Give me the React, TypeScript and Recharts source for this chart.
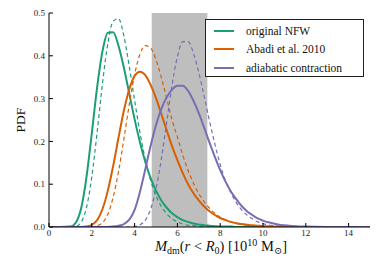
import React from "react";
import { LineChart, Line, XAxis, YAxis, ReferenceArea } from "recharts";

// M_dm(r < R0) grid, in 10^10 Msun
const mass = [
  0, 0.5, 1, 1.25, 1.5, 1.75, 2, 2.25, 2.5, 2.75, 3, 3.25, 3.5, 3.75, 4, 4.25, 4.5, 4.75, 5, 5.25, 5.5, 5.75,
  6, 6.25, 6.5, 6.75, 7, 7.25, 7.5, 7.75, 8, 8.25, 8.5, 8.75, 9, 9.25, 9.5, 9.75, 10, 10.25, 10.5, 10.75, 11,
  11.5, 12, 13, 14, 15,
];

const nfw = [
  0, 0, 0.001, 0.01, 0.043, 0.116, 0.219, 0.327, 0.411, 0.454, 0.455, 0.423, 0.372, 0.312, 0.252, 0.198, 0.152,
  0.114, 0.085, 0.062, 0.045, 0.032, 0.023, 0.016, 0.012, 0.008, 0.006, 0.004, 0.003, 0.002, 0.001, 0.001, 0.001,
  0, 0, 0, 0, 0, 0, 0, 0, 0, 0, 0, 0, 0, 0, 0,
];
const nfwDash = [
  0, 0, 0, 0.001, 0.011, 0.045, 0.117, 0.222, 0.336, 0.429, 0.481, 0.487, 0.446, 0.376, 0.296, 0.221, 0.158,
  0.109, 0.073, 0.048, 0.031, 0.019, 0.012, 0.007, 0.004, 0.003, 0.002, 0.001, 0.001, 0, 0, 0, 0, 0, 0, 0, 0, 0,
  0, 0, 0, 0, 0, 0, 0, 0, 0, 0,
];
const abadi = [
  0, 0, 0, 0, 0, 0.001, 0.005, 0.016, 0.042, 0.085, 0.143, 0.209, 0.272, 0.322, 0.353, 0.363, 0.355, 0.332, 0.301,
  0.264, 0.226, 0.189, 0.156, 0.126, 0.1, 0.079, 0.062, 0.048, 0.037, 0.028, 0.021, 0.016, 0.012, 0.009, 0.007,
  0.005, 0.004, 0.003, 0.002, 0.0015, 0.001, 0.0008, 0.0006, 0.0003, 0.0001, 0, 0, 0,
];
const abadiDash = [
  0, 0, 0, 0, 0, 0, 0, 0.003, 0.01, 0.03, 0.07, 0.13, 0.206, 0.286, 0.356, 0.404, 0.424, 0.418, 0.391, 0.349, 0.3,
  0.25, 0.21, 0.168, 0.132, 0.102, 0.078, 0.059, 0.044, 0.032, 0.023, 0.017, 0.012, 0.0085, 0.006, 0.004, 0.003,
  0.002, 0.0013, 0.0009, 0.0006, 0.0004, 0.0003, 0.0001, 0, 0, 0, 0,
];
const adiabatic = [
  0, 0, 0, 0, 0, 0, 0, 0, 0, 0, 0.001, 0.003, 0.007, 0.017, 0.04, 0.082, 0.135, 0.19, 0.238, 0.276, 0.303, 0.321,
  0.33, 0.33, 0.318, 0.295, 0.266, 0.232, 0.197, 0.164, 0.133, 0.106, 0.083, 0.065, 0.049, 0.037, 0.028, 0.02,
  0.015, 0.011, 0.008, 0.0055, 0.004, 0.002, 0.001, 0.0002, 0, 0,
];
const adiabaticDash = [
  0, 0, 0, 0, 0, 0, 0, 0, 0, 0, 0, 0, 0, 0, 0.001, 0.005, 0.016, 0.042, 0.089, 0.159, 0.245, 0.331, 0.398, 0.433,
  0.433, 0.406, 0.361, 0.306, 0.248, 0.194, 0.146, 0.107, 0.08, 0.057, 0.04, 0.028, 0.019, 0.012, 0.008, 0.005,
  0.003, 0.002, 0.001, 0.0003, 0.0001, 0, 0, 0,
];

const xTicks = [0, 2, 4, 6, 8, 10, 12, 14];
const yTicks = [0, 0.1, 0.2, 0.3, 0.4, 0.5];
const band = [4.8, 7.4];

const data = mass.map((m, i) => ({
  m,
  nfw: nfw[i],
  nfwDash: nfwDash[i],
  abadi: abadi[i],
  abadiDash: abadiDash[i],
  adiabatic: adiabatic[i],
  adiabaticDash: adiabaticDash[i],
}));

const GREEN = "#1b9e77";
const ORANGE = "#d95f02";
const PURPLE = "#7570b3";
const font = '"Liberation Serif", "DejaVu Serif", serif';

const legendItems = [
  { name: "original NFW", color: GREEN },
  { name: "Abadi et al. 2010", color: ORANGE },
  { name: "adiabatic contraction", color: PURPLE },
];

const XLabel = () => (
  <text x={221} y={251} textAnchor="middle" fontFamily={font} fontSize={14.5} fill="#111">
    <tspan fontStyle="italic">M</tspan>
    <tspan fontSize={10} dy={2.5}>dm</tspan>
    <tspan dy={-2.5}>(</tspan>
    <tspan fontStyle="italic">r</tspan>
    <tspan>{" < "}</tspan>
    <tspan fontStyle="italic">R</tspan>
    <tspan fontSize={10} dy={2.5}>0</tspan>
    <tspan dy={-2.5}>{") [10"}</tspan>
    <tspan fontSize={10} dy={-5}>10</tspan>
    <tspan dy={5}>{" M"}</tspan>
    <tspan fontSize={10} dy={2.5}>⊙</tspan>
    <tspan dy={-2.5}>]</tspan>
  </text>
);

const YLabel = () => (
  <text x={25} y={120} transform="rotate(-90 25 120)" textAnchor="middle" fontFamily={font} fontSize={13.5} fill="#111">
    PDF
  </text>
);

const tickStyle = { fontSize: 9, fill: "#222", fontFamily: font };

export default function App() {
  return (
    <div style={{ position: "relative", width: 390, height: 260, background: "#fff" }}>
      <style>{"body{margin:0}"}</style>
      <LineChart width={390} height={260} data={data} margin={{ top: 13, right: 20, bottom: 0, left: 0 }}>
        <ReferenceArea x1={band[0]} x2={band[1]} y1={0} y2={0.5} fill="#bebebe" fillOpacity={1} stroke="none" />
        <XAxis
          dataKey="m"
          type="number"
          domain={[0, 15]}
          ticks={xTicks}
          height={33}
          tickSize={-4}
          tickMargin={7}
          axisLine={{ stroke: "#000" }}
          tickLine={{ stroke: "#000" }}
          tick={tickStyle}
          label={{ content: XLabel }}
        />
        <XAxis
          xAxisId="top"
          orientation="top"
          dataKey="m"
          type="number"
          domain={[0, 15]}
          ticks={xTicks}
          height={0}
          tickSize={-4}
          tickFormatter={() => ""}
          axisLine={{ stroke: "#000" }}
          tickLine={{ stroke: "#000" }}
        />
        <YAxis
          type="number"
          domain={[0, 0.5]}
          ticks={yTicks}
          width={49}
          tickSize={-4}
          tickMargin={8}
          allowDataOverflow
          axisLine={{ stroke: "#000" }}
          tickLine={{ stroke: "#000" }}
          tick={tickStyle}
          tickFormatter={(v) => v.toFixed(1)}
          label={{ content: YLabel }}
        />
        <YAxis
          yAxisId="right"
          orientation="right"
          type="number"
          domain={[0, 0.5]}
          ticks={yTicks}
          width={0}
          tickSize={-4}
          allowDataOverflow
          tickFormatter={() => ""}
          axisLine={{ stroke: "#000" }}
          tickLine={{ stroke: "#000" }}
        />
        <Line type="monotone" dataKey="nfwDash" stroke={GREEN} strokeWidth={1.2} strokeDasharray="4 3" dot={false} isAnimationActive={false} />
        <Line type="monotone" dataKey="nfw" stroke={GREEN} strokeWidth={2} dot={false} isAnimationActive={false} />
        <Line type="monotone" dataKey="abadiDash" stroke={ORANGE} strokeWidth={1.2} strokeDasharray="4 3" dot={false} isAnimationActive={false} />
        <Line type="monotone" dataKey="abadi" stroke={ORANGE} strokeWidth={2} dot={false} isAnimationActive={false} />
        <Line type="monotone" dataKey="adiabaticDash" stroke={PURPLE} strokeWidth={1.2} strokeDasharray="4 3" dot={false} isAnimationActive={false} />
        <Line type="monotone" dataKey="adiabatic" stroke={PURPLE} strokeWidth={2} dot={false} isAnimationActive={false} />
      </LineChart>
      <div
        style={{
          position: "absolute",
          left: 205,
          top: 19,
          width: 157,
          height: 56,
          border: "1px solid #222",
          background: "#fff",
          fontFamily: font,
          fontSize: 11.5,
          color: "#111",
          boxSizing: "content-box",
        }}
      >
        {legendItems.map((it, i) => (
          <div key={it.name} style={{ position: "absolute", left: 0, top: 2 + i * 18.3, height: 18, display: "flex", alignItems: "center" }}>
            <span style={{ display: "inline-block", marginLeft: 8, width: 20, height: 2, background: it.color }} />
            <span style={{ marginLeft: 12, whiteSpace: "nowrap" }}>{it.name}</span>
          </div>
        ))}
      </div>
    </div>
  );
}
